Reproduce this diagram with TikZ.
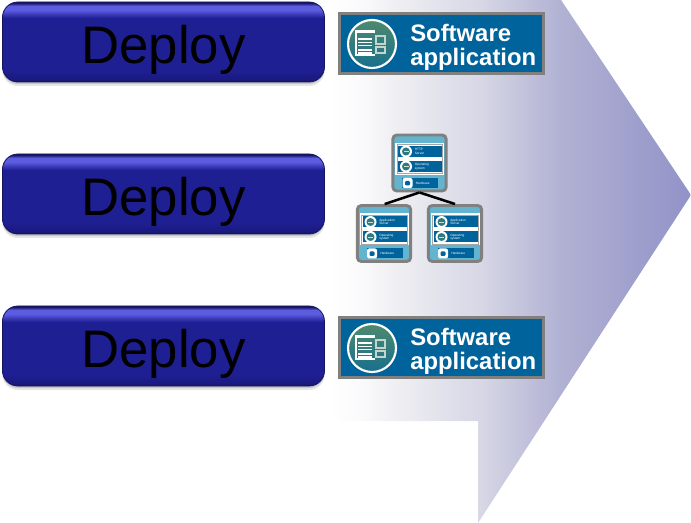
\documentclass[tikz,border=0pt]{standalone}
\usepackage{fontspec}
\setmainfont{Liberation Sans}
\usepackage{tikz}
\usetikzlibrary{shadows}

\definecolor{appblue}{RGB}{0,99,155}
\definecolor{framegray}{RGB}{128,128,128}
\definecolor{cardteal}{RGB}{98,180,207}
\definecolor{discgreen}{RGB}{78,138,110}
\definecolor{deployedge}{RGB}{20,20,95}
\definecolor{deploylow}{RGB}{26,26,130}
\definecolor{deploybody}{RGB}{31,31,148}
\definecolor{deploylight}{RGB}{92,92,225}
\definecolor{arrowa}{RGB}{250,250,252}
\definecolor{arrowb}{RGB}{238,238,242}
\definecolor{arrowc}{RGB}{215,215,230}
\definecolor{arrowd}{RGB}{178,178,212}
\definecolor{arrowe}{RGB}{146,146,200}
\pgfdeclareverticalshading{deployshade}{100bp}{color(0bp)=(deployedge); color(25bp)=(deployedge); color(27bp)=(deploylow); color(33bp)=(deploybody); color(65bp)=(deploybody); color(70bp)=(deploylight); color(72.5bp)=(deploylight); color(74.5bp)=(deployedge); color(100bp)=(deployedge)}
\pgfdeclarehorizontalshading{arrowshade}{100bp}{color(0bp)=(white); color(25.7bp)=(white); color(30bp)=(arrowa); color(35.2bp)=(arrowb); color(46.2bp)=(arrowc); color(56.8bp)=(arrowd); color(75bp)=(arrowe); color(100bp)=(arrowe)}

\tikzset{
  deploybox/.style={shading=deployshade,draw=deployedge,line width=0.6pt,rounded corners=11.5,minimum width=241.5pt,minimum height=60pt,inner sep=0pt,font=\fontsize{39.6}{40}\selectfont,text=black,text height=41pt,text depth=8.25pt,
    drop shadow={shadow xshift=0pt,shadow yshift=-1.5pt,opacity=.3},
    drop shadow={shadow xshift=0pt,shadow yshift=-3pt,opacity=.2}},
  appbox/.style={draw=framegray,fill=appblue,line width=2.2pt,minimum width=153pt,minimum height=44.5pt,inner sep=0pt},
  apptext/.style={text=white,font=\bfseries\fontsize{17.9}{18}\selectfont,align=left,inner sep=0pt,anchor=west},
  cardbox/.style={draw=framegray,fill=cardteal,line width=2.2pt,rounded corners=3,minimum width=40pt,minimum height=42pt,inner sep=0pt},
  rowbox/.style={fill=appblue,inner sep=0pt},
  tinytext/.style={text=white,font=\fontsize{2.4}{2.7}\selectfont,align=left,inner sep=0pt,anchor=west},
}

% application banner, centred on #2
\newcommand{\appbanner}[2]{
\begin{scope}[shift={(#2)}]
\node [appbox] (#1) at (0,0) {};
\shade [top color=discgreen,bottom color=appblue!70!discgreen,draw=white,line width=1.6pt] (-69.5,0.5) circle (24);
\fill [white] (-85.5,-13) rectangle (-66.5,-10);
\draw [white,line width=0.8pt] (-85.5,-13) -- (-85.5,11.5) -- (-66.5,11.5);
\foreach \ya in {-4.5,-1,2,6.5,9.5}
  \draw [white,line width=1.2pt] (-83.5,\ya) -- (-69.5,\ya);
\draw [white!65!discgreen,line width=0.8pt] (-65.5,-7.5) rectangle (-56.5,0.5);
\draw [white!65!discgreen,line width=0.8pt] (-65.5,3.5) rectangle (-56.5,9.5);
\node [apptext] (#1t) at (-31.5,3.5) {Software\\application};
\end{scope}
}

% small stack card, centred on #2, #3 is the top row
\newcommand{\stackcard}[3]{
\begin{scope}[shift={(#2)}]
\node [cardbox] (#1) at (0,0) {};
\fill [white] (-24.5,-20) rectangle (24.5,12);
\draw [framegray!70,line width=0.6pt] (-22.5,-18.5) rectangle (23,10.5);
\node [rowbox,minimum width=33pt,minimum height=8.25pt] (#1a) at (0.5,-11.5) {};
\node [rowbox,minimum width=33pt,minimum height=8.25pt] (#1b) at (0.5,3.5) {};
\foreach \ya in {-11.5,3.5}{
  \fill [white] (-13.5,\ya) circle (6);
  \fill [discgreen!60!appblue] (-13.5,\ya) circle (4);
  \draw [white!70!discgreen,line width=0.3pt] (-16,\ya) -- (-11,\ya);
}
\node [tinytext] at (-5,-11.5) {#3};
\node [tinytext] at (-5,3.5) {Operating\\system};
\node [rowbox,minimum width=27pt,minimum height=7.5pt] (#1c) at (0.5,20) {};
\fill [white,rounded corners=1.5] (-17,15) rectangle (-7,25);
\fill [appblue,rounded corners=0.8] (-14.5,18) rectangle (-9.5,22.5);
\node [tinytext] at (-4,20) {Hardware};
\end{scope}
}

\begin{document}
\begin{tikzpicture}[x=0.75pt,y=0.75pt,yscale=-1,xscale=1]
\useasboundingbox (0,0) rectangle (691,523);

%Big arrow
\shade [shading=arrowshade] (325,0) -- (561,0) -- (691,195) -- (478,523) -- (478,421) -- (325,421) -- cycle ;

%Deploy buttons
\node [deploybox] (deployA) at (163.5,42) {Deploy};
\node [deploybox] (deployB) at (163.5,194) {Deploy};
\node [deploybox] (deployC) at (163.5,346) {Deploy};

%Banners
\appbanner{appA}{441.5,43.5}
\appbanner{appC}{441.5,347.5}

%Cards
\stackcard{cardT}{419.5,163}{HTTP\\Server}
\stackcard{cardL}{384,233.5}{Application\\Server}
\stackcard{cardR}{455,233.5}{Application\\Server}

%Tree lines
\draw [line width=1.9pt] (cardT.south) -- ([xshift=0.5pt]cardL.north) ;
\draw [line width=1.9pt] (cardT.south) -- (cardR.north) ;

\end{tikzpicture}
\end{document}
